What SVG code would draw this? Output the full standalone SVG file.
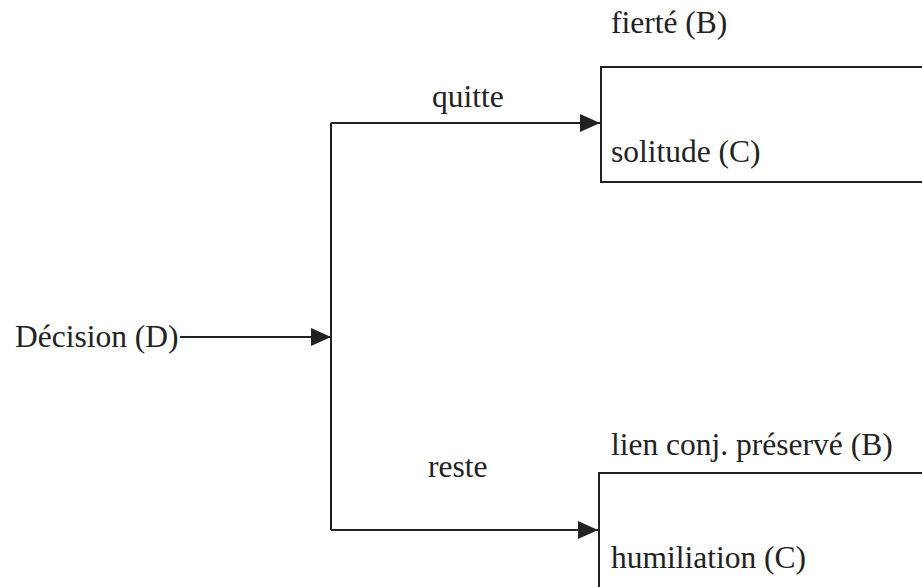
<svg xmlns="http://www.w3.org/2000/svg" width="922" height="587" viewBox="0 0 922 587">
  <style>
    .lbl { font-family: "Liberation Serif", "Times New Roman", serif; font-size: 31.5px; fill: #222; }
    .ln { fill: none; stroke: #222; stroke-width: 2; }
    .box { fill: #fff; stroke: #222; stroke-width: 2; }
  </style>
  <defs>
    <marker id="arrow" markerUnits="userSpaceOnUse" markerWidth="20" markerHeight="18" refX="20" refY="9" orient="auto">
      <path d="M0,0 L20,9 L0,18 Z" fill="#222"/>
    </marker>
  </defs>
  <rect width="922" height="587" fill="#fff"/>

  <g id="decision">
    <text class="lbl" x="15" y="347">Décision (D)</text>
  </g>

  <g id="outcome-quitte">
    <text class="lbl" x="611" y="33">fierté (B)</text>
    <rect class="box" x="601" y="67" width="340" height="115"/>
    <text class="lbl" x="611" y="162">solitude (C)</text>
  </g>

  <g id="outcome-reste">
    <text class="lbl" x="611" y="455">lien conj. préservé (B)</text>
    <rect class="box" x="599" y="473" width="340" height="130"/>
    <text class="lbl" x="611" y="568">humiliation (C)</text>
  </g>

  <g id="connectors">
    <line class="ln" x1="180" y1="337" x2="331" y2="337" marker-end="url(#arrow)"/>
    <polyline class="ln" points="331,123 331,530"/>
    <polyline class="ln" points="331,123 600,123" marker-end="url(#arrow)"/>
    <polyline class="ln" points="331,530 598,530" marker-end="url(#arrow)"/>
    <text class="lbl" x="432" y="107">quitte</text>
    <text class="lbl" x="428" y="477">reste</text>
  </g>
</svg>
